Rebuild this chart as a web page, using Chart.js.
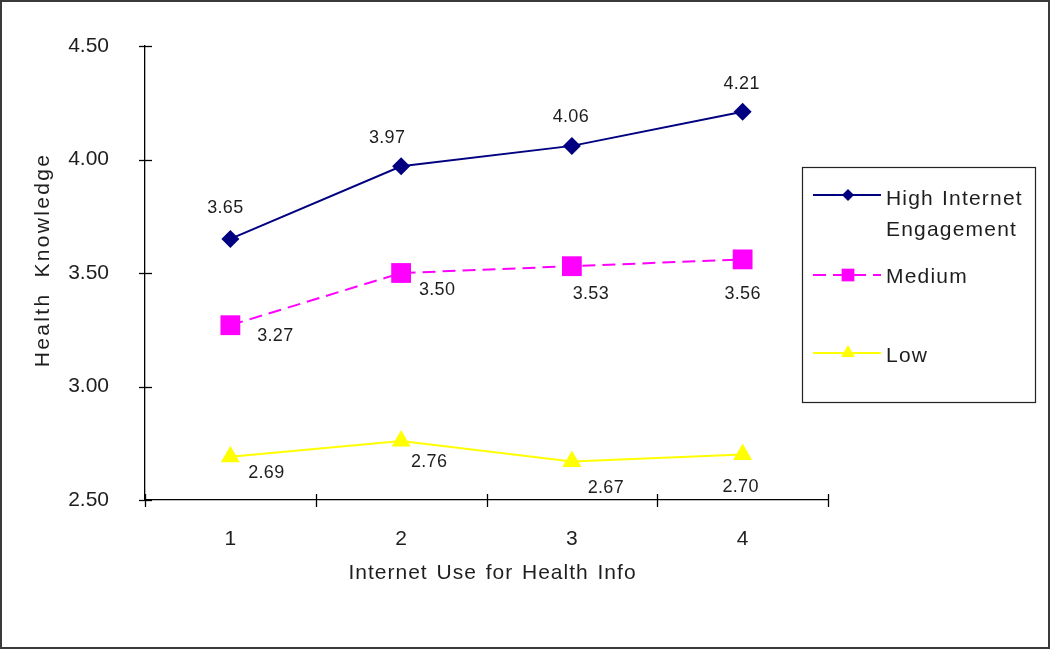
<!DOCTYPE html>
<html>
<head>
<meta charset="utf-8">
<script src="https://cdn.jsdelivr.net/npm/chart.js@4/dist/chart.umd.min.js"></script>
<style>
  html, body { margin: 0; padding: 0; background: #fff; }
  #wrap { width: 1050px; height: 649px; position: relative; }
</style>
</head>
<body>
<div id="wrap"><canvas id="c" width="1050" height="649"></canvas></div>
<script>
const categories = ['1', '2', '3', '4'];
const highValues = [3.65, 3.97, 4.06, 4.21];
const mediumValues = [3.27, 3.50, 3.53, 3.56];
const lowValues = [2.69, 2.76, 2.67, 2.70];
const yTickValues = [2.5, 3.0, 3.5, 4.0, 4.5];
const seriesNames = ['High Internet Engagement', 'Medium', 'Low'];
const legendLines = [['High Internet', 'Engagement'], ['Medium'], ['Low']];
const xTitle = 'Internet Use for Health Info';
const yTitle = 'Health Knowledge';

// label nudges relative to each point (style, not data)
const labelNudges = [
  [[-5, -31], [-14, -28], [-1, -29], [-1, -28]],
  [[45, 11], [36, 17], [19, 28], [0, 35]],
  [[36, 16], [28, 21], [34, 27], [-2, 32]]
];

const FONT = '"Liberation Sans", Arial, sans-serif';
const TXT = '#1e1e1e';

function setSpacing(ctx, ls, ws) {
  if ('letterSpacing' in ctx) ctx.letterSpacing = ls + 'px';
  if ('wordSpacing' in ctx) ctx.wordSpacing = ws + 'px';
}

function drawMarker(ctx, style, x, y, r, color) {
  ctx.save();
  ctx.fillStyle = color;
  ctx.beginPath();
  if (style === 'rectRot') {
    ctx.moveTo(x, y - r); ctx.lineTo(x + r, y); ctx.lineTo(x, y + r); ctx.lineTo(x - r, y);
  } else if (style === 'rect') {
    const s = r * Math.SQRT1_2;
    ctx.rect(x - s, y - s, 2 * s, 2 * s);
  } else if (style === 'triangle') {
    ctx.moveTo(x, y - r);
    ctx.lineTo(x + r * Math.sin(Math.PI / 3), y + r / 2);
    ctx.lineTo(x - r * Math.sin(Math.PI / 3), y + r / 2);
  }
  ctx.closePath();
  ctx.fill();
  ctx.restore();
}

const decorPlugin = {
  id: 'decor',
  afterDraw(chart) {
    const ctx = chart.ctx;
    const area = chart.chartArea;
    const xs = chart.scales.x, ys = chart.scales.y;
    ctx.save();
    // tick marks crossing the axes
    ctx.strokeStyle = '#000';
    ctx.lineWidth = 1.3;
    ys.ticks.forEach(t => {
      const py = Math.round(ys.getPixelForValue(t.value)) + 0.5;
      ctx.beginPath(); ctx.moveTo(area.left - 6, py); ctx.lineTo(area.left + 7, py); ctx.stroke();
    });
    const n = categories.length;
    const bounds = [area.left];
    for (let i = 0; i < n - 1; i++) bounds.push((xs.getPixelForTick(i) + xs.getPixelForTick(i + 1)) / 2);
    bounds.push(area.right);
    bounds.forEach(bx => {
      const px = Math.round(bx) + 0.5;
      ctx.beginPath(); ctx.moveTo(px, area.bottom - 6); ctx.lineTo(px, area.bottom + 7); ctx.stroke();
    });

    // axis titles
    ctx.fillStyle = TXT;
    ctx.textAlign = 'center';
    ctx.textBaseline = 'middle';
    ctx.font = '21px ' + FONT;
    setSpacing(ctx, 1, 2);
    ctx.fillText(xTitle, (area.left + area.right) / 2 + 6, area.bottom + 73);
    ctx.save();
    ctx.translate(43, (area.top + area.bottom) / 2 - 13);
    ctx.rotate(-Math.PI / 2);
    setSpacing(ctx, 2.3, 7);
    ctx.fillText(yTitle, 0, 0);
    ctx.restore();
    setSpacing(ctx, 0, 0);

    // data labels
    ctx.font = '18px ' + FONT;
    setSpacing(ctx, 0.3, 0);
    chart.data.datasets.forEach((ds, di) => {
      const meta = chart.getDatasetMeta(di);
      meta.data.forEach((pt, i) => {
        const nd = labelNudges[di][i];
        ctx.fillText(ds.data[i].toFixed(2), pt.x + nd[0], pt.y + nd[1]);
      });
    });
    setSpacing(ctx, 0, 0);

    // legend box
    const lb = { l: 802.5, t: 167.5, r: 1035.5, b: 402.5 };
    ctx.strokeStyle = '#222';
    ctx.lineWidth = 1.2;
    ctx.strokeRect(lb.l, lb.t, lb.r - lb.l, lb.b - lb.t);
    const rows = [
      { y: 195, ty: [199, 230], r: 6 },
      { y: 275, ty: [277], r: 9 },
      { y: 353, ty: [356], r: 8 }
    ];
    rows.forEach((row, di) => {
      const ds = chart.data.datasets[di];
      ctx.save();
      ctx.strokeStyle = ds.borderColor;
      ctx.lineWidth = ds.borderWidth;
      ctx.setLineDash(ds.borderDash || []);
      ctx.beginPath(); ctx.moveTo(813, row.y); ctx.lineTo(881, row.y); ctx.stroke();
      ctx.restore();
      drawMarker(ctx, ds.pointStyle, 848, row.y, row.r, ds.pointBackgroundColor);
      ctx.font = '21px ' + FONT;
      ctx.fillStyle = TXT;
      ctx.textAlign = 'left';
      ctx.textBaseline = 'middle';
      setSpacing(ctx, 1.2, 1);
      legendLines[di].forEach((s, k) => ctx.fillText(s, 886, row.ty[k]));
      setSpacing(ctx, 0, 0);
    });

    // outer frame
    ctx.strokeStyle = '#3a3a3a';
    ctx.lineWidth = 2;
    ctx.strokeRect(1, 1, chart.width - 2, chart.height - 2);
    ctx.restore();
  }
};

const whiteBg = {
  id: 'whiteBg',
  beforeDraw(chart) {
    const ctx = chart.ctx;
    ctx.save(); ctx.fillStyle = '#fff'; ctx.fillRect(0, 0, chart.width, chart.height); ctx.restore();
  }
};

new Chart(document.getElementById('c'), {
  type: 'line',
  data: {
    labels: categories,
    datasets: [
      {
        label: seriesNames[0], data: highValues,
        borderColor: '#000080', backgroundColor: '#000080',
        pointBackgroundColor: '#000080', pointBorderColor: '#000080',
        borderWidth: 2, pointStyle: 'rectRot', pointRadius: 9, pointBorderWidth: 0,
        tension: 0, fill: false
      },
      {
        label: seriesNames[1], data: mediumValues,
        borderColor: '#FF00FF', backgroundColor: '#FF00FF',
        pointBackgroundColor: '#FF00FF', pointBorderColor: '#FF00FF',
        borderWidth: 2, borderDash: [13, 7], pointStyle: 'rect', pointRadius: 14, pointBorderWidth: 0,
        tension: 0, fill: false
      },
      {
        label: seriesNames[2], data: lowValues,
        borderColor: '#FFFF00', backgroundColor: '#FFFF00',
        pointBackgroundColor: '#FFFF00', pointBorderColor: '#FFFF00',
        borderWidth: 2, pointStyle: 'triangle', pointRadius: 11, pointBorderWidth: 0,
        tension: 0, fill: false
      }
    ]
  },
  options: {
    responsive: false,
    animation: false,
    events: [],
    layout: { padding: { left: 0, top: 46, right: 222, bottom: 0 } },
    plugins: { legend: { display: false }, tooltip: { enabled: false } },
    scales: {
      x: {
        type: 'category',
        offset: true,
        grid: { display: false, offset: true },
        border: { display: true, color: '#000', width: 1.3 },
        ticks: { color: TXT, font: { family: FONT, size: 21 }, padding: 19, maxRotation: 0 },
        title: { display: false, text: xTitle },
        afterFit(scale) { scale.height = 149; }
      },
      y: {
        min: 2.5, max: 4.5,
        grid: { display: false },
        border: { display: true, color: '#000', width: 1.3 },
        ticks: { color: TXT, font: { family: FONT, size: 21 }, padding: 28, callback: v => Number(v).toFixed(2) },
        afterBuildTicks(scale) { scale.ticks = yTickValues.map(v => ({ value: v })); },
        title: { display: false, text: yTitle },
        afterFit(scale) { scale.width = 145; }
      }
    }
  },
  plugins: [whiteBg, decorPlugin]
});
</script>
</body>
</html>
